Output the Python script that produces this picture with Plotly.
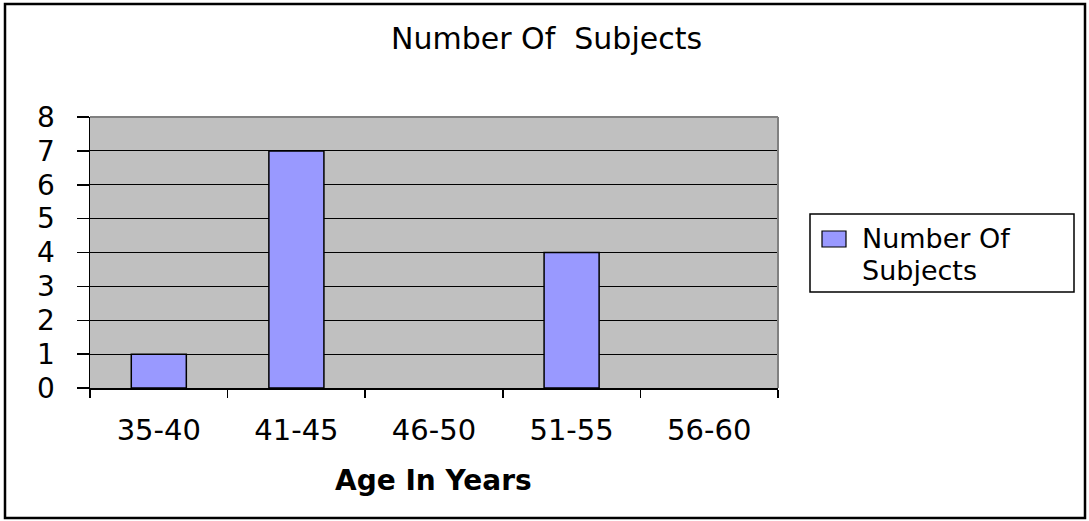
import plotly.graph_objects as go

categories = ["35-40", "41-45", "46-50", "51-55", "56-60"]
subjects = [1, 7, 0, 4, 0]
y_ticks = [0, 1, 2, 3, 4, 5, 6, 7, 8]
series_name = "Number Of Subjects"
legend_lines = ["Number Of", "Subjects"]
chart_title = "Number Of\u00a0 Subjects"
x_title = "Age In Years"

W, H = 1089, 521
FONT = "DejaVu Sans"

def px_x(v):
    return v / W

def px_y(v):
    return 1 - v / H

fig = go.Figure()
fig.add_trace(go.Bar(
    x=categories, y=subjects, name=series_name, width=0.4,
    marker=dict(color="#9999ff",
                line=dict(color="black", width=[1.5 if v > 0 else 0 for v in subjects])),
    showlegend=False,
))

fig.update_layout(
    width=W, height=H,
    margin=dict(l=0, r=0, t=0, b=0, pad=0, autoexpand=False),
    paper_bgcolor="white",
    plot_bgcolor="#c0c0c0",
    font=dict(family=FONT, color="black", size=28),
    xaxis=dict(
        domain=[px_x(90), px_x(778)],
        range=[-0.5, 4.5],
        automargin=False,
        showline=True, linecolor="black", linewidth=1.5,
        ticks="outside", ticklen=8, tickcolor="black", tickwidth=1.5,
        tickson="boundaries", showgrid=False,
        tickfont=dict(family=FONT, size=29, color="black"),
        ticklabelstandoff=16,
        fixedrange=True,
    ),
    yaxis=dict(
        domain=[1 - 388 / H, 1 - 117 / H],
        range=[0, 8],
        automargin=False,
        tickvals=y_ticks,
        showline=True, linecolor="black", linewidth=1.5,
        ticks="outside", ticklen=12, tickcolor="black", tickwidth=1.5,
        showgrid=True, gridcolor="black", gridwidth=1.2,
        zeroline=False,
        tickfont=dict(family=FONT, size=28, color="black"),
        ticklabelstandoff=16,
        fixedrange=True,
    ),
    shapes=[
        dict(type="rect", xref="paper", yref="paper",
             x0=px_x(5), x1=px_x(1085), y0=px_y(518), y1=px_y(4),
             line=dict(color="black", width=2.5), layer="above"),
        dict(type="line", xref="x domain", yref="y domain",
             x0=0, x1=1, y0=1, y1=1, line=dict(color="#808080", width=2), layer="above"),
        dict(type="line", xref="x domain", yref="y domain",
             x0=1, x1=1, y0=0, y1=1, line=dict(color="#808080", width=2), layer="above"),
        dict(type="rect", xref="paper", yref="paper",
             x0=px_x(810), x1=px_x(1074), y0=px_y(292), y1=px_y(214),
             line=dict(color="black", width=1.5), fillcolor="white", layer="above"),
        dict(type="rect", xref="paper", yref="paper",
             x0=px_x(822), x1=px_x(846), y0=px_y(247), y1=px_y(231),
             line=dict(color="black", width=1.2), fillcolor="#9999ff", layer="above"),
    ],
    annotations=[
        dict(text=chart_title, xref="paper", yref="paper",
             x=px_x(546), y=px_y(38), xanchor="center", yanchor="middle",
             showarrow=False, font=dict(family=FONT, size=30, color="black")),
        dict(text=f"<b>{x_title}</b>", xref="paper", yref="paper",
             x=px_x(433), y=px_y(480), xanchor="center", yanchor="middle",
             showarrow=False, font=dict(family=FONT, size=28, color="black")),
        dict(text=legend_lines[0], xref="paper", yref="paper",
             x=px_x(860), y=px_y(238), xanchor="left", yanchor="middle",
             showarrow=False, font=dict(family=FONT, size=27, color="black")),
        dict(text=legend_lines[1], xref="paper", yref="paper",
             x=px_x(860), y=px_y(270), xanchor="left", yanchor="middle",
             showarrow=False, font=dict(family=FONT, size=27, color="black")),
    ],
)

fig.write_html(
    "out.html",
    config={"displayModeBar": False, "staticPlot": True},
    post_script="document.body.style.margin='0';document.body.style.overflow='hidden';",
)
